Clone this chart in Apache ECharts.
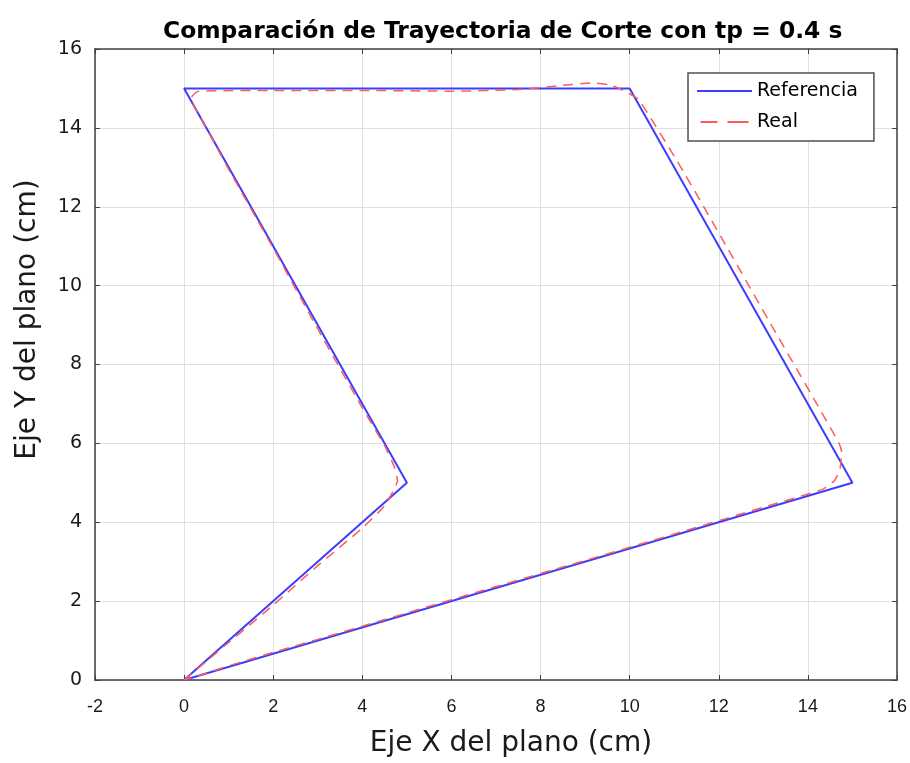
<!DOCTYPE html>
<html>
<head>
<meta charset="utf-8">
<script src="https://cdn.jsdelivr.net/npm/echarts@6/dist/echarts.min.js"></script>
<style>
  html, body { margin: 0; padding: 0; background: #ffffff; }
  #chart { width: 910px; height: 763px; }
</style>
</head>
<body>
<div id="chart"></div>
<script>
// Reference path of the cut (cm)
const refX = [0, 5, 0, 10, 15, 0];
const refY = [0, 5, 15, 15, 5, 0];

// Measured path followed by the tool (cm)
const realX = [0, 1, 2, 3, 4, 4.5, 4.72, 4.79, 4.72, 4.52, 4.0, 3.0, 2.0, 1.0, 0.4, 0.15, 0.3, 0.6,
  2, 4, 6, 7.5, 8.5, 9.2, 9.6, 9.9, 10.2, 11.15, 12.17, 13.18, 14.2, 14.7, 14.76, 14.72, 14.6, 14.34,
  13, 11, 9, 7, 5, 3, 2, 1, 0.3, 0];
const realY = [0, 0.95, 1.9, 2.9, 3.85, 4.42, 4.85, 5.05, 5.4, 5.9, 6.9, 8.9, 10.95, 12.95, 14.2, 14.75, 14.92, 14.94,
  14.95, 14.95, 14.93, 14.97, 15.08, 15.14, 15.08, 14.92, 14.72, 13, 11, 9, 7, 6, 5.77, 5.35, 5.06, 4.84,
  4.38, 3.7, 3.03, 2.37, 1.7, 1.03, 0.7, 0.36, 0.1, 0];

const xTicks = { min: -2, max: 16, interval: 2 };
const yTicks = { min: 0, max: 16, interval: 2 };

const seriesNames = ['Referencia', 'Real'];
const titleText = 'Comparación de Trayectoria de Corte con tp = 0.4 s';
const xName = 'Eje X del plano (cm)';
const yName = 'Eje Y del plano (cm)';

const pairs = (xs, ys) => xs.map((x, i) => [x, ys[i]]);

const axisColor = '#404040';
const gridColor = '#e0e0e0';
const refColor = '#3d3dff';
const realColor = '#ff5c5c';

const chart = echarts.init(document.getElementById('chart'), null, { renderer: 'canvas' });

// Top and right frame axes: inward ticks only
const frameAxis = {
  type: 'value',
  axisLine: { show: true, onZero: false, lineStyle: { color: axisColor, width: 1.5 } },
  axisTick: { show: true, inside: true, length: 5, lineStyle: { color: axisColor, width: 1 } },
  axisLabel: { show: false },
  splitLine: { show: false }
};

chart.setOption({
  animation: false,
  backgroundColor: '#ffffff',
  title: {
    text: titleText,
    left: 158,
    top: 15,
    textStyle: { fontFamily: 'DejaVu Sans, Liberation Sans, Arial', fontWeight: 'bold', fontSize: 23.4, color: '#000' }
  },
  grid: { left: 95, right: 11, top: 49, bottom: 81, containLabel: false },
  legend: {
    orient: 'vertical',
    left: 688,
    top: 73,
    itemWidth: 55,
    itemHeight: 2,
    itemGap: 9,
    padding: [7, 16, 8, 9],
    backgroundColor: '#ffffff',
    borderColor: '#505050',
    borderWidth: 1.5,
    textStyle: { fontFamily: 'DejaVu Sans, Liberation Sans, Arial', fontSize: 19, color: '#000', lineHeight: 22 },
    data: [
      { name: seriesNames[0], icon: 'rect' },
      { name: seriesNames[1], icon: 'path://M0,0h17v2h-17z M27,0h21v2h-21z' }
    ]
  },
  xAxis: [
    {
      type: 'value',
      min: xTicks.min, max: xTicks.max, interval: xTicks.interval,
      name: xName,
      nameLocation: 'middle',
      nameGap: 50,
      nameTextStyle: { fontFamily: 'DejaVu Sans, Liberation Sans, Arial', fontSize: 28, color: '#1a1a1a', padding: [0, 0, 0, 30] },
      axisLine: { show: true, onZero: false, lineStyle: { color: axisColor, width: 1.5 } },
      axisTick: { show: true, inside: true, length: 5, lineStyle: { color: axisColor } },
      axisLabel: { fontFamily: 'Liberation Sans, Arial', fontSize: 18, color: '#1a1a1a', margin: 18 },
      splitLine: { show: true, lineStyle: { color: gridColor, width: 1 } }
    },
    Object.assign({}, frameAxis, { position: 'top', min: xTicks.min, max: xTicks.max, interval: xTicks.interval })
  ],
  yAxis: [
    {
      type: 'value',
      min: yTicks.min, max: yTicks.max, interval: yTicks.interval,
      name: yName,
      nameLocation: 'middle',
      nameGap: 53,
      nameTextStyle: { fontFamily: 'DejaVu Sans, Liberation Sans, Arial', fontSize: 28, color: '#1a1a1a', padding: [0, 0, 0, 90] },
      axisLine: { show: true, onZero: false, lineStyle: { color: axisColor, width: 1.5 } },
      axisTick: { show: true, inside: true, length: 5, lineStyle: { color: axisColor } },
      axisLabel: { fontFamily: 'DejaVu Sans, Liberation Sans, Arial', fontSize: 19, color: '#1a1a1a', margin: 13 },
      splitLine: { show: true, lineStyle: { color: gridColor, width: 1 } }
    },
    Object.assign({}, frameAxis, { position: 'right', min: yTicks.min, max: yTicks.max, interval: yTicks.interval })
  ],
  series: [
    {
      name: seriesNames[0],
      type: 'line',
      data: pairs(refX, refY),
      showSymbol: false,
      symbol: 'none',
      lineStyle: { color: refColor, width: 2 },
      itemStyle: { color: refColor },
      z: 3
    },
    {
      name: seriesNames[1],
      type: 'line',
      data: pairs(realX, realY),
      showSymbol: false,
      symbol: 'none',
      smooth: 0.15,
      lineStyle: { color: realColor, width: 1.5, type: [10, 7] },
      itemStyle: { color: realColor },
      z: 4
    }
  ]
});
</script>
</body>
</html>
